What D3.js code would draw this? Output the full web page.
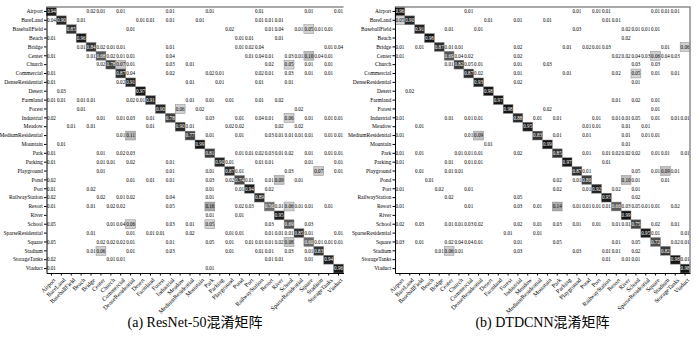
<!DOCTYPE html>
<html>
<head>
<meta charset="utf-8">
<script src="https://cdn.jsdelivr.net/npm/d3@7"></script>
<style>
  body { margin: 0; background: #fff; }
  svg text { font-family: "Liberation Serif", "Noto Sans CJK SC", serif; }
</style>
</head>
<body>
<div id="chart"></div>
<script>
const classes = ["Airport","BareLand","BaseballField","Beach","Bridge","Center","Church","Commercial",
  "DenseResidential","Desert","Farmland","Forest","Industrial","Meadow","MediumResidential","Mountain",
  "Park","Parking","Playground","Pond","Port","RailwayStation","Resort","River","School",
  "SparseResidential","Square","Stadium","StorageTanks","Viaduct"];

const captions = ["(a) ResNet-50混淆矩阵", "(b) DTDCNN混淆矩阵"];

// each row: [predicted column index, share] pairs, zeros left out
const resnetRows = [
  [[0,.94],[4,.02],[5,.01],[7,.01],[12,.01],[16,.01],[21,.01],[26,.01],[29,.01]],
  [[0,.04],[1,.90],[3,.01],[9,.01],[10,.01],[12,.01],[15,.01],[21,.01],[22,.01],[23,.01]],
  [[2,.85],[8,.01],[18,.02],[22,.01],[23,.04],[25,.01],[26,.05],[27,.01],[28,.01]],
  [[0,.01],[3,.96],[19,.01],[20,.01],[23,.01]],
  [[3,.01],[4,.84],[5,.02],[6,.01],[7,.01],[12,.01],[19,.01],[20,.02],[21,.04],[28,.01],[29,.04]],
  [[0,.01],[4,.01],[5,.68],[6,.02],[7,.01],[8,.01],[12,.04],[20,.01],[21,.04],[22,.01],[24,.03],[25,.01],[26,.10],[27,.04],[28,.01]],
  [[5,.02],[6,.78],[7,.07],[8,.01],[12,.03],[14,.01],[22,.02],[24,.05],[26,.01],[28,.01]],
  [[0,.01],[7,.87],[8,.04],[12,.02],[16,.02],[17,.01],[21,.02],[22,.01],[24,.03],[26,.01],[28,.01]],
  [[0,.01],[7,.02],[8,.91],[14,.01],[17,.01],[21,.01],[24,.01]],
  [[1,.03],[9,.97]],
  [[0,.01],[1,.01],[3,.01],[4,.01],[8,.02],[9,.01],[10,.91],[14,.01],[16,.01],[18,.01],[21,.01],[23,.02]],
  [[3,.01],[11,.90],[13,.06],[15,.02],[25,.02]],
  [[0,.02],[5,.01],[7,.01],[8,.03],[10,.01],[12,.78],[16,.03],[19,.01],[21,.04],[22,.01],[24,.06],[26,.01],[28,.01],[29,.01]],
  [[2,.01],[4,.01],[10,.01],[13,.90],[14,.01],[18,.02],[19,.02],[23,.02],[25,.02]],
  [[7,.01],[8,.11],[14,.77],[16,.01],[19,.01],[22,.03],[23,.01],[24,.01],[25,.01],[26,.01],[28,.01],[29,.01]],
  [[1,.01],[15,.99]],
  [[0,.01],[5,.01],[7,.02],[8,.03],[16,.81],[19,.01],[20,.01],[21,.02],[22,.03],[23,.01],[24,.02],[26,.01],[28,.01],[29,.01]],
  [[0,.01],[5,.01],[6,.01],[8,.02],[12,.01],[17,.90],[18,.01],[21,.01],[22,.01],[26,.01],[29,.01]],
  [[5,.01],[12,.01],[16,.01],[18,.87],[19,.01],[24,.03],[27,.07],[29,.01]],
  [[0,.02],[8,.01],[10,.01],[12,.01],[16,.03],[18,.02],[19,.74],[20,.01],[22,.01],[23,.09],[25,.01]],
  [[0,.01],[4,.02],[16,.01],[19,.01],[20,.94],[22,.02]],
  [[0,.02],[5,.02],[7,.01],[8,.02],[12,.04],[16,.01],[21,.89]],
  [[0,.01],[4,.01],[6,.02],[7,.02],[12,.048],[16,.16],[19,.02],[20,.03],[22,.56],[23,.01],[24,.06],[25,.01],[26,.01],[28,.01]],
  [[16,.01],[19,.01],[23,.95]],
  [[0,.048],[6,.01],[7,.04],[8,.06],[12,.03],[14,.01],[16,.05],[22,.03],[24,.69],[26,.03]],
  [[4,.01],[8,.01],[10,.01],[11,.01],[14,.02],[18,.01],[19,.01],[22,.01],[23,.01],[24,.01],[25,.85],[26,.01],[29,.01]],
  [[0,.048],[5,.02],[6,.02],[7,.02],[8,.01],[12,.01],[16,.048],[18,.01],[20,.01],[21,.01],[22,.01],[23,.02],[24,.08],[26,.60],[27,.01],[28,.01],[29,.01]],
  [[4,.01],[5,.06],[8,.01],[12,.03],[18,.01],[21,.01],[22,.01],[24,.03],[26,.01],[27,.83]],
  [[0,.02],[6,.01],[7,.01],[22,.01],[23,.01],[26,.01],[28,.94]],
  [[0,.01],[16,.01],[29,.96]]
];

const dtdcnnRows = [
  [[0,.96],[7,.01],[18,.01],[20,.01],[21,.01],[26,.01],[27,.01],[28,.01]],
  [[0,.05],[1,.90],[9,.01],[12,.01],[15,.01],[21,.01],[22,.01]],
  [[2,.91],[5,.01],[8,.01],[18,.03],[23,.02],[24,.01],[25,.01],[26,.01]],
  [[3,.98],[23,.02]],
  [[0,.01],[2,.01],[4,.87],[5,.01],[6,.01],[12,.02],[17,.01],[19,.02],[20,.01],[21,.03],[27,.01],[29,.06]],
  [[0,.01],[5,.69],[6,.04],[7,.02],[12,.02],[22,.02],[23,.02],[24,.04],[25,.03],[26,.06],[27,.04],[28,.03]],
  [[5,.01],[6,.82],[7,.048],[8,.01],[12,.01],[15,.03],[24,.03],[26,.03]],
  [[7,.87],[8,.02],[12,.01],[17,.01],[22,.02],[24,.05],[26,.01],[28,.01]],
  [[8,.93],[12,.02],[24,.01]],
  [[1,.02],[9,.98]],
  [[10,.97],[22,.01],[24,.02],[26,.01]],
  [[11,.98],[15,.02],[26,.01]],
  [[0,.01],[5,.01],[7,.01],[8,.01],[12,.88],[14,.01],[16,.01],[20,.01],[22,.01],[23,.01],[24,.048],[26,.01],[28,.01],[29,.01]],
  [[2,.01],[13,.95],[19,.01],[20,.01],[23,.01],[25,.01]],
  [[0,.01],[7,.01],[8,.09],[14,.83],[16,.01],[19,.01],[23,.01],[25,.01],[26,.01]],
  [[9,.01],[15,.99],[23,.01]],
  [[0,.01],[2,.01],[6,.01],[7,.01],[8,.01],[12,.02],[16,.85],[19,.01],[21,.01],[22,.02],[23,.02],[24,.02],[26,.01],[27,.01],[29,.01]],
  [[0,.01],[5,.01],[7,.01],[8,.01],[17,.97],[21,.01]],
  [[2,.01],[5,.01],[6,.01],[18,.87],[19,.01],[24,.048],[26,.01],[27,.09],[28,.01]],
  [[3,.01],[16,.02],[18,.01],[19,.80],[23,.10],[24,.01],[27,.01]],
  [[0,.01],[4,.02],[7,.01],[16,.02],[19,.01],[20,.92],[22,.02],[24,.01]],
  [[5,.02],[12,.048],[21,.95],[24,.02]],
  [[0,.01],[7,.01],[12,.03],[14,.01],[16,.14],[18,.01],[19,.01],[20,.01],[21,.01],[22,.66],[23,.03],[24,.048],[25,.01],[26,.01],[28,.02]],
  [[23,.99]],
  [[0,.02],[2,.03],[5,.01],[6,.01],[7,.03],[8,.02],[12,.02],[14,.01],[16,.03],[18,.01],[20,.01],[22,.01],[23,.01],[24,.75],[26,.02],[28,.01]],
  [[11,.01],[14,.01],[25,.95],[26,.01],[29,.01]],
  [[0,.03],[2,.01],[5,.02],[6,.04],[7,.04],[8,.01],[12,.01],[16,.048],[22,.01],[24,.048],[26,.72],[28,.02],[29,.01]],
  [[4,.01],[5,.06],[6,.01],[12,.03],[18,.03],[21,.01],[22,.01],[24,.02],[27,.82]],
  [[21,.01],[23,.01],[24,.01],[28,.98],[29,.01]],
  [[29,.98]]
];

const svg = d3.select("#chart").append("svg")
    .attr("width", 700)
    .attr("height", 354);

// greyscale map, cells under 0.05 stay white
const shade = d3.scaleLinear()
    .domain([0.05, 0.15, 0.6, 1])
    .range(["#d4d4d4", "#a8a8a8", "#686868", "#101010"]);

function drawMatrix(rows, left, right, caption, rightSpine) {
    const top = 7, bottom = 273;

    const x = d3.scaleBand().domain(classes).range([left, right]);
    const y = d3.scaleBand().domain(classes).range([top, bottom]);

    const cells = [];
    rows.forEach((row, i) => row.forEach(([j, v]) => cells.push({ actual: classes[i], pred: classes[j], v })));

    const g = svg.append("g");

    g.selectAll("rect.cell")
        .data(cells.filter(d => d.v >= 0.05))
        .enter()
        .append("rect")
        .attr("class", "cell")
        .attr("x", d => x(d.pred))
        .attr("y", d => y(d.actual))
        .attr("width", x.bandwidth())
        .attr("height", y.bandwidth())
        .attr("fill", d => shade(d.v))
        .attr("stroke", "#8a8a8a")
        .attr("stroke-width", 0.5);

    g.selectAll("text.val")
        .data(cells)
        .enter()
        .append("text")
        .attr("class", "val")
        .attr("x", d => x(d.pred) + x.bandwidth() / 2)
        .attr("y", d => y(d.actual) + y.bandwidth() / 2)
        .attr("dy", "0.35em")
        .attr("text-anchor", "middle")
        .attr("font-size", "5.1px")
        .attr("fill", d => d.v > 0.5 ? "#fff" : "#000")
        .text(d => d3.format(".2f")(d.v));

    // grey frame on top (and right for panel b)
    g.append("path")
        .attr("d", rightSpine ? `M${left},${top}H${right}V${bottom}` : `M${left},${top}H${right}`)
        .attr("fill", "none")
        .attr("stroke", "#8c8c8c")
        .attr("stroke-width", 1.5);

    g.append("g")
        .attr("transform", `translate(${left},0)`)
        .call(d3.axisLeft(y).tickSize(2.5).tickPadding(1.2).tickSizeOuter(0))
        .call(a => a.selectAll("text").attr("font-size", "5.5px").attr("font-family", "Liberation Serif"));

    g.append("g")
        .attr("transform", `translate(0,${bottom})`)
        .call(d3.axisBottom(x).tickSize(2.5).tickSizeOuter(0))
        .call(a => a.selectAll("text")
            .attr("font-size", "6px")
            .attr("font-family", "Liberation Serif")
            .attr("x", 0).attr("y", 0).attr("dy", "0.35em")
            .attr("transform", "translate(3,6) rotate(-45)")
            .style("text-anchor", "end"));

    svg.append("text")
        .attr("x", (left + right) / 2)
        .attr("y", 327)
        .attr("text-anchor", "middle")
        .attr("font-size", "14px")
        .text(caption);
}

drawMatrix(resnetRows, 46.5, 343.5, captions[0], false);
drawMatrix(dtdcnnRows, 395, 690, captions[1], true);
</script>
</body>
</html>
